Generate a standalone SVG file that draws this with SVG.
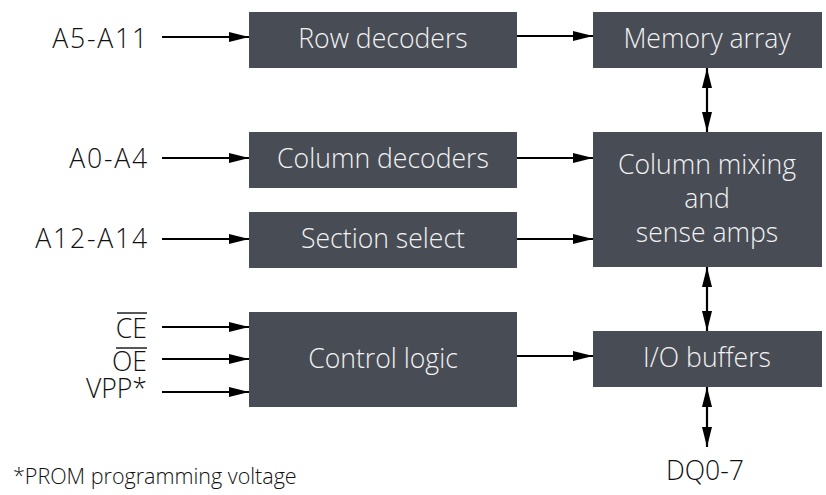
<svg xmlns="http://www.w3.org/2000/svg" width="826" height="495" viewBox="0 0 826 495">
<defs>
<marker id="ah" viewBox="0 0 20 10" refX="20" refY="5" markerWidth="20" markerHeight="10" markerUnits="userSpaceOnUse" orient="auto-start-reverse">
<path d="M0,0 L20,5 L0,10 Z" fill="#000"/>
</marker>
<style>
.box{fill:#484c55}
.bt{font-family:"Open Sans",sans-serif;font-weight:300;font-size:26.6px;fill:#f2f2f2;text-anchor:middle}
.lb{font-family:"Open Sans",sans-serif;font-weight:300;font-size:26.6px;fill:#111;text-anchor:end}
.ad{letter-spacing:1.8px}
.ln{stroke:#000;stroke-width:2.2;fill:none}
</style>
</defs>
<rect width="826" height="495" fill="#fff"/>
<g id="row-decoders"><rect class="box" x="249" y="12" width="268" height="56"/><text class="bt" x="383" y="48">Row decoders</text></g>
<g id="memory-array"><rect class="box" x="593" y="12" width="229" height="56"/><text class="bt" x="707" y="48">Memory array</text></g>
<g id="column-decoders"><rect class="box" x="249" y="132" width="268" height="56"/><text class="bt" x="383" y="168">Column decoders</text></g>
<g id="section-select"><rect class="box" x="249" y="212" width="268" height="56"/><text class="bt" x="383" y="248">Section select</text></g>
<g id="column-mixing"><rect class="box" x="593" y="132" width="229" height="135"/><text class="bt" x="707" y="174">Column mixing</text><text class="bt" x="707" y="208">and</text><text class="bt" x="707" y="242">sense amps</text></g>
<g id="control-logic"><rect class="box" x="249" y="312" width="268" height="95"/><text class="bt" x="383" y="368">Control logic</text></g>
<g id="io-buffers"><rect class="box" x="593" y="331" width="229" height="56"/><text class="bt" x="707" y="367">I/O buffers</text></g>
<g id="labels">
<text class="lb ad" x="149" y="48">A5-A11</text>
<text class="lb ad" x="149" y="168">A0-A4</text>
<text class="lb ad" x="149" y="248">A12-A14</text>
<text class="lb" x="147" y="338">CE</text>
<line x1="117" y1="313" x2="147" y2="313" stroke="#111" stroke-width="1.4"/>
<text class="lb" x="147" y="371">OE</text>
<line x1="116" y1="348" x2="147" y2="348" stroke="#111" stroke-width="1.4"/>
<text class="lb" x="147" y="398">VPP*</text>
<text class="lb" x="705" y="480" style="text-anchor:middle">DQ0-7</text>
<text font-family="Open Sans,sans-serif" font-weight="300" font-size="21.5" fill="#111" x="13" y="484">*PROM programming voltage</text>
</g>
<g id="connectors">
<line class="ln" x1="162" y1="37" x2="249" y2="37" marker-end="url(#ah)"/>
<line class="ln" x1="162" y1="158" x2="249" y2="158" marker-end="url(#ah)"/>
<line class="ln" x1="162" y1="239" x2="249" y2="239" marker-end="url(#ah)"/>
<line class="ln" x1="162" y1="327" x2="249" y2="327" marker-end="url(#ah)"/>
<line class="ln" x1="162" y1="359" x2="249" y2="359" marker-end="url(#ah)"/>
<line class="ln" x1="162" y1="392" x2="249" y2="392" marker-end="url(#ah)"/>
<line class="ln" x1="517" y1="36" x2="593" y2="36" marker-end="url(#ah)"/>
<line class="ln" x1="517" y1="158" x2="593" y2="158" marker-end="url(#ah)"/>
<line class="ln" x1="517" y1="239" x2="593" y2="239" marker-end="url(#ah)"/>
<line class="ln" x1="517" y1="356" x2="593" y2="356" marker-end="url(#ah)"/>
<line class="ln" x1="707" y1="68" x2="707" y2="132" marker-start="url(#ah)" marker-end="url(#ah)"/>
<line class="ln" x1="707" y1="267" x2="707" y2="331" marker-start="url(#ah)" marker-end="url(#ah)"/>
<line class="ln" x1="707" y1="387" x2="707" y2="447" marker-start="url(#ah)" marker-end="url(#ah)"/>
</g>
</svg>
